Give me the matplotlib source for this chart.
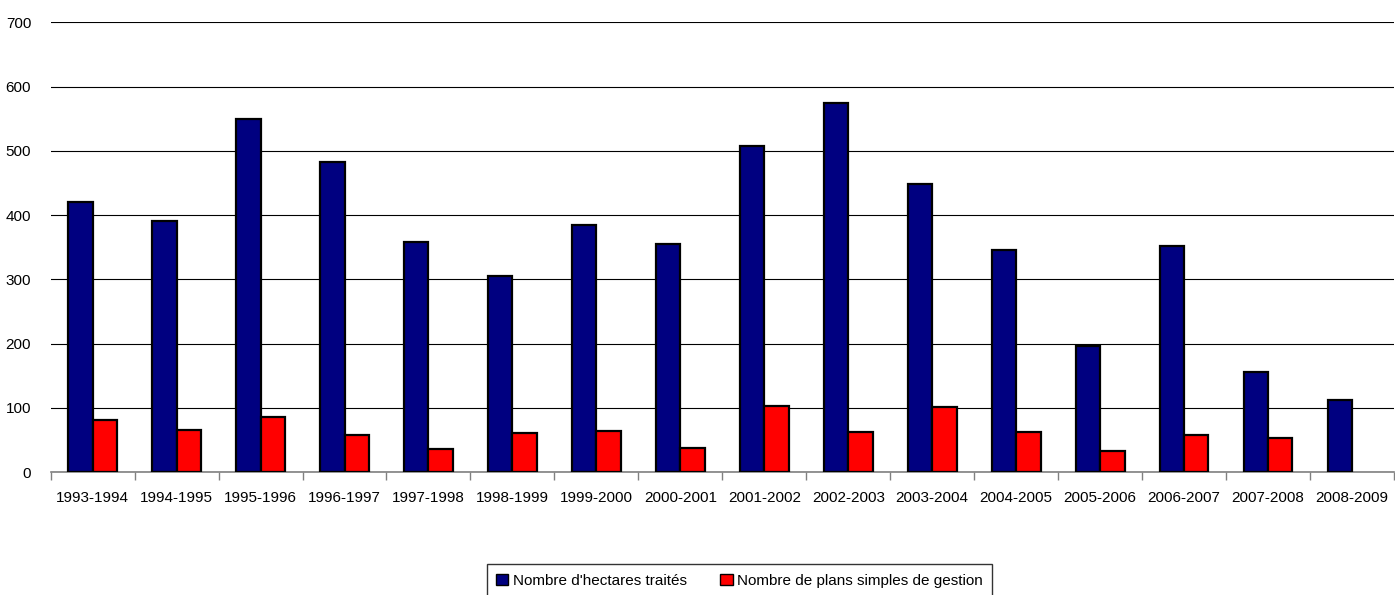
import matplotlib
matplotlib.use('Agg')
import numpy as np
import matplotlib.pyplot as plt
from matplotlib.patches import Patch

plt.rcParams['font.family'] = ['Liberation Sans Narrow', 'Liberation Sans', 'DejaVu Sans']

# data
campagnes = ['1993-1994', '1994-1995', '1995-1996', '1996-1997', '1997-1998', '1998-1999',
             '1999-2000', '2000-2001', '2001-2002', '2002-2003', '2003-2004', '2004-2005',
             '2005-2006', '2006-2007', '2007-2008', '2008-2009']
hectares = [420, 391, 550, 482, 358, 305, 385, 355, 508, 575, 449, 346, 196, 352, 156, 112]
plans = [81, 65, 85, 57, 36, 61, 64, 38, 102, 62, 101, 62, 33, 57, 53, 0]

fig = plt.figure(figsize=(13.95, 5.95), dpi=100)
ax = fig.add_axes([0.0363, 0.2067, 0.963, 0.7558])

x = np.arange(len(campagnes))
w = 0.29
ax.bar(x - w / 2, hectares, w, color='#000080', edgecolor='black', linewidth=1.6, zorder=3)
plans_x = [xi + w / 2 for xi, v in zip(x, plans) if v > 0]
plans_v = [v for v in plans if v > 0]
ax.bar(plans_x, plans_v, w, color='#FF0000', edgecolor='black', linewidth=1.6, zorder=3)

ax.set_xlim(-0.5, len(campagnes) - 0.5)
ax.set_ylim(0, 700)
ax.set_yticks(range(0, 701, 100))
ax.yaxis.grid(True, color='black', linewidth=0.8, zorder=0)
ax.set_axisbelow(True)

ax.set_xticks(x)
ax.set_xticklabels(campagnes, fontsize=11)
ax.set_xticks(np.arange(-0.5, len(campagnes)), minor=True)
ax.tick_params(axis='x', which='major', length=0, pad=14)
ax.tick_params(axis='x', which='minor', length=6, color='#808080', width=1)
ax.tick_params(axis='y', length=0, labelsize=11, pad=14)

for s in ['top', 'right', 'left']:
    ax.spines[s].set_visible(False)
ax.spines['bottom'].set_color('#808080')
ax.spines['bottom'].set_linewidth(1.2)

handles = [Patch(facecolor='#000080', edgecolor='black', label="Nombre d'hectares traités"),
           Patch(facecolor='#FF0000', edgecolor='black', label='Nombre de plans simples de gestion')]
leg = fig.legend(handles=handles, loc='center', bbox_to_anchor=(0.53, 0.024), ncol=2,
                 fontsize=11, frameon=True, fancybox=False, edgecolor='black',
                 handlelength=0.8, handleheight=0.8, handletextpad=0.3, columnspacing=2.2,
                 borderpad=0.6)
leg.get_frame().set_linewidth(1.0)

fig.savefig('out.png', dpi=100)
